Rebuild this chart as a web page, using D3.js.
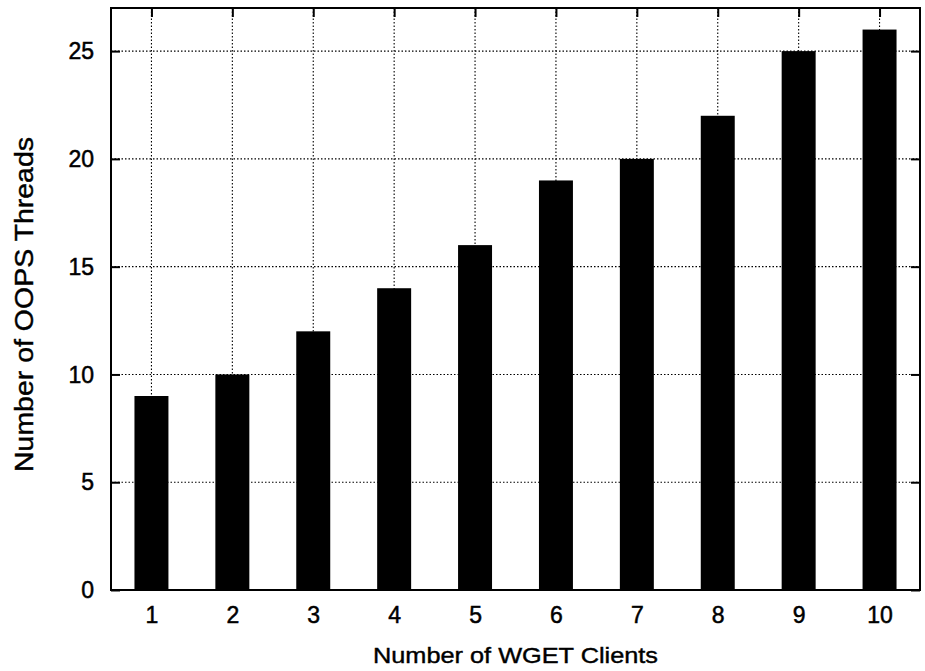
<!DOCTYPE html>
<html>
<head>
<meta charset="utf-8">
<script src="https://cdn.jsdelivr.net/npm/d3@7"></script>
<style>
  html, body { margin: 0; padding: 0; background: #fff; }
  svg { display: block; }
  text { font-family: "Liberation Sans", Arial, Helvetica, sans-serif; fill: #000; }
</style>
</head>
<body>
<svg id="chart" width="925" height="671"></svg>
<script>
// Threads spawned by the OOPS proxy as the number of concurrent wget clients grows
const clients = [1, 2, 3, 4, 5, 6, 7, 8, 9, 10];
const threads = [9, 10, 12, 14, 16, 19, 20, 22, 25, 26];
const yTicks = [0, 5, 10, 15, 20, 25];
const xTitle = "Number of WGET Clients";
const yTitle = "Number of OOPS Threads";

const svg = d3.select("#chart");
const plot = { left: 111, right: 920, top: 8, bottom: 590 };

const x = d3.scaleLinear().domain([0.5, 10.5]).range([plot.left, plot.right]);
const y = d3.scaleLinear().domain([0, 27]).range([plot.bottom, plot.top]);
const barW = (x(1) - x(0)) * 0.42;

const g = svg.append("g");

// dotted grid
const grid = g.append("g").attr("stroke", "#000").attr("stroke-width", 1.1)
  .attr("stroke-dasharray", "1.5,2");
grid.selectAll(".gy").data(yTicks.filter(d => d > 0)).join("line")
  .attr("x1", plot.left).attr("x2", plot.right)
  .attr("y1", d => y(d)).attr("y2", d => y(d));
grid.selectAll(".gx").data(clients).join("line")
  .attr("x1", d => x(d)).attr("x2", d => x(d))
  .attr("y1", plot.top).attr("y2", plot.bottom);

// bars
g.append("g").selectAll("rect").data(clients).join("rect")
  .attr("x", (d) => x(d) - barW / 2)
  .attr("width", barW)
  .attr("y", (d, i) => y(threads[i]))
  .attr("height", (d, i) => y(0) - y(threads[i]))
  .attr("fill", "#000");

// axes with inward ticks
const tickLen = 9;
const axL = g.append("g").attr("transform", `translate(${plot.left},0)`)
  .call(d3.axisLeft(y).tickValues(yTicks).tickSize(-tickLen).tickPadding(17));
const axR = g.append("g").attr("transform", `translate(${plot.right},0)`)
  .call(d3.axisRight(y).tickValues(yTicks).tickSize(-tickLen).tickFormat(""));
const axT = g.append("g").attr("transform", `translate(0,${plot.top})`)
  .call(d3.axisTop(x).tickValues(clients).tickSize(-tickLen).tickFormat(""));
const axB = g.append("g").attr("transform", `translate(0,${plot.bottom})`)
  .call(d3.axisBottom(x).tickValues(clients).tickSize(-tickLen).tickPadding(17));

[axL, axR, axT, axB].forEach(a => {
  a.select(".domain").remove();
  a.selectAll(".tick line").attr("stroke", "#000").attr("stroke-width", 2);
  a.selectAll("text").style("font-size", "23px")
    .style("font-family", "'Liberation Sans', Arial, sans-serif")
    .attr("fill", "#000").attr("stroke", "#000").attr("stroke-width", 0.5);
});
axL.selectAll("text").attr("dy", "0.33em");
axB.selectAll("text").attr("dy", "0.71em");

// frame
g.append("rect")
  .attr("x", plot.left).attr("y", plot.top)
  .attr("width", plot.right - plot.left).attr("height", plot.bottom - plot.top)
  .attr("fill", "none").attr("stroke", "#000").attr("stroke-width", 2);

// axis titles
svg.append("text")
  .attr("x", (plot.left + plot.right) / 2).attr("y", 662.5)
  .attr("text-anchor", "middle")
  .attr("textLength", 285).attr("lengthAdjust", "spacingAndGlyphs")
  .attr("stroke", "#000").attr("stroke-width", 0.4)
  .style("font-size", "22px")
  .text(xTitle);

svg.append("text")
  .attr("transform", `translate(33,${304.5}) rotate(-90)`)
  .attr("text-anchor", "middle")
  .attr("textLength", 335).attr("lengthAdjust", "spacingAndGlyphs")
  .attr("stroke", "#000").attr("stroke-width", 0.4)
  .style("font-size", "25px")
  .text(yTitle);
</script>
</body>
</html>
